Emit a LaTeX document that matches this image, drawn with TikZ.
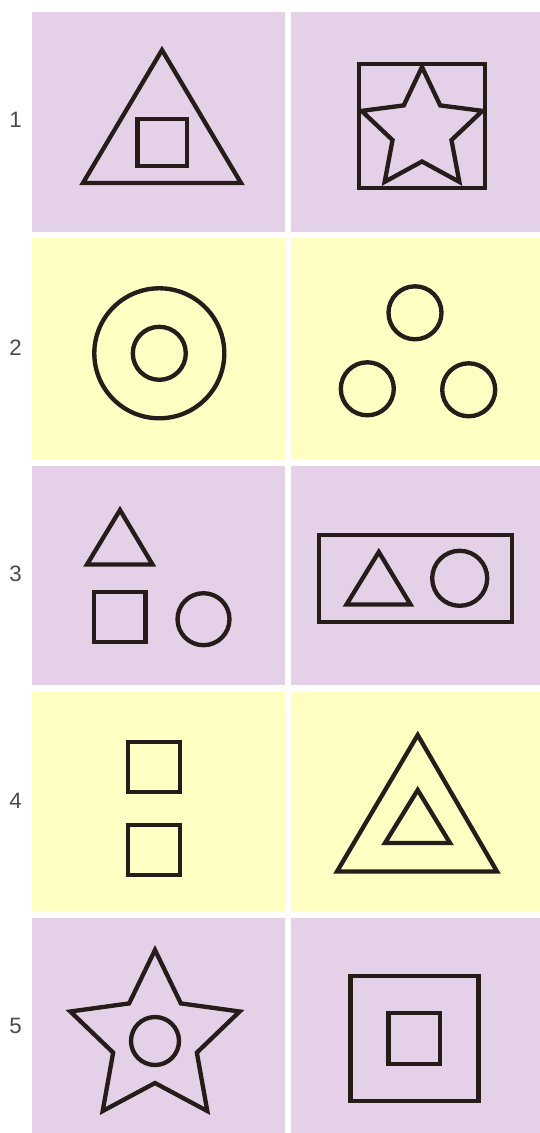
\documentclass[tikz,border=0pt]{standalone}
\usepackage{fontspec}
\setsansfont{Liberation Sans}
\usepackage{tikz}
\usepackage{xcolor}
\definecolor{PanelLilac}{RGB}{229,209,231}
\definecolor{PanelYellow}{RGB}{255,255,196}
\definecolor{ShapeInk}{RGB}{38,28,26}
\definecolor{NumGrey}{RGB}{75,75,75}
\tikzset{
  figline/.style={draw=ShapeInk,line width=0.13cm,line join=miter},
  rownum/.style={font=\sffamily\fontsize{19}{19}\selectfont,text=NumGrey,inner sep=0pt}
}

\begin{document}
\begin{tikzpicture}[x=0.03cm,y=-0.03cm]
\useasboundingbox[fill=white] (0,0) rectangle (540,1133);
% panels
\fill[PanelLilac]  (31.7,12)    rectangle (285,232);
\fill[PanelLilac]  (291,12)     rectangle (540,232);
\fill[PanelYellow] (31.7,238.5) rectangle (285,459);
\fill[PanelYellow] (291,238.5)  rectangle (540,459);
\fill[PanelLilac]  (31.7,465.5) rectangle (285,685);
\fill[PanelLilac]  (291,465.5)  rectangle (540,685);
\fill[PanelYellow] (31.7,691.5) rectangle (285,911);
\fill[PanelYellow] (291,691.5)  rectangle (540,911);
\fill[PanelLilac]  (31.7,918)   rectangle (285,1133);
\fill[PanelLilac]  (291,918)    rectangle (540,1133);
% row numbers
\node[rownum] (num1) at (15.5,120) {1};
\node[rownum] (num2) at (15.5,348) {2};
\node[rownum] (num3) at (15.5,574) {3};
\node[rownum] (num4) at (15.5,801) {4};
\node[rownum] (num5) at (15.5,1026) {5};

% row 1
\draw[figline] (162,50) -- (241,183) -- (83,183) -- cycle;
\draw[figline] (137.5,119) rectangle (187,166);
\draw[figline] (359,64) rectangle (485,188);
\draw[figline,shift={(422,130.5)}] (-90:63.5) -- (-54:31) -- (-18:63.5) -- (18:31)
  -- (54:63.5) -- (90:31) -- (126:63.5) -- (162:31) -- (198:63.5) -- (234:31) -- cycle;

% row 2
\draw[figline] (159.3,353.3) circle[radius=65];
\draw[figline] (159.3,353.3) circle[radius=26.5];
\draw[figline] (415,312.8) circle[radius=26.5];
\draw[figline] (367.3,388.8) circle[radius=26.5];
\draw[figline] (468.7,389.8) circle[radius=26.5];

% row 3
\draw[figline] (120,510) -- (152.5,564.5) -- (87,564.5) -- cycle;
\draw[figline] (94,592) rectangle (145.5,642);
\draw[figline] (203.5,619.2) circle[radius=26];
\draw[figline] (318.8,535.3) rectangle (511.8,622.3);
\draw[figline] (378.8,552) -- (410.5,604.5) -- (346.5,604.5) -- cycle;
\draw[figline] (459.7,578.3) circle[radius=27.5];

% row 4
\draw[figline] (127.7,742) rectangle (179.8,792);
\draw[figline] (127.7,824.7) rectangle (179.8,874.7);
\draw[figline] (417.7,735) -- (497,871.5) -- (337,871.5) -- cycle;
\draw[figline] (417.7,790) -- (450,843) -- (385,843) -- cycle;

% row 5
\draw[figline,shift={(155,1039)}] (-90:89) -- (-54:44) -- (-18:89) -- (18:44)
  -- (54:89) -- (90:44) -- (126:89) -- (162:44) -- (198:89) -- (234:44) -- cycle;
\draw[figline] (155,1041) circle[radius=24];
\draw[figline] (350.5,976.3) rectangle (478.4,1101.3);
\draw[figline] (388.4,1013) rectangle (439.8,1064);
\end{tikzpicture}
\end{document}
